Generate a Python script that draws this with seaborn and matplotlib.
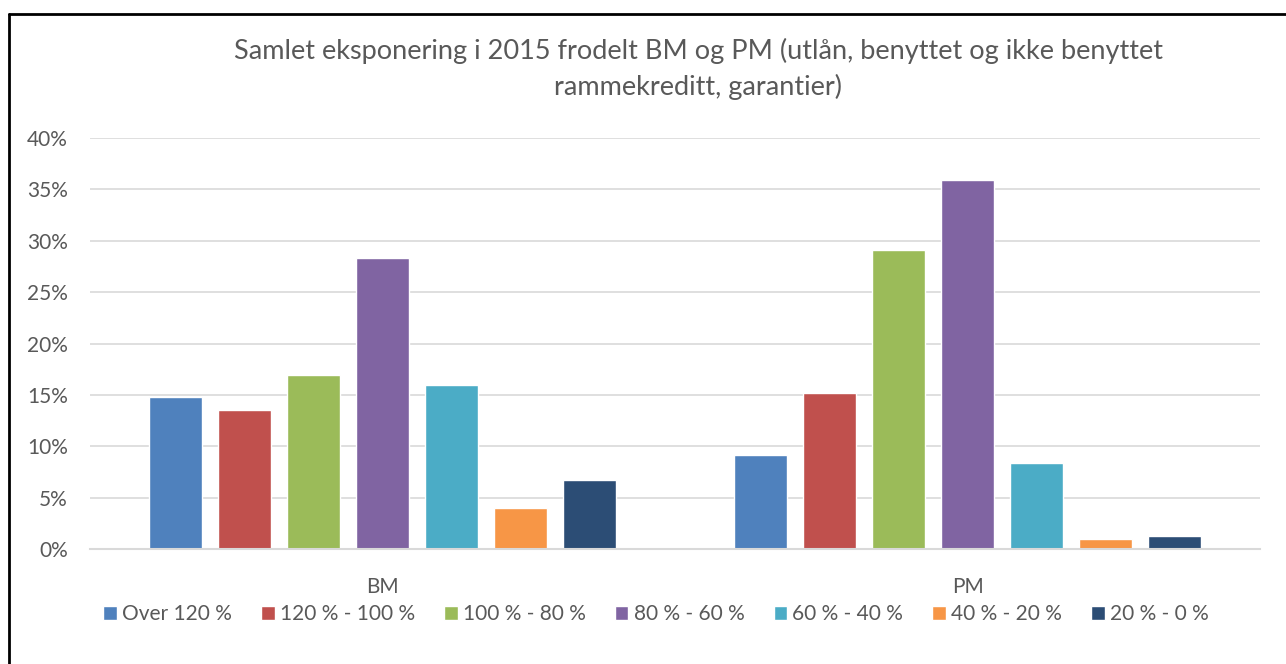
import matplotlib
matplotlib.use("Agg")
import matplotlib.pyplot as plt
import seaborn as sns
import pandas as pd
from matplotlib.lines import Line2D
from matplotlib.ticker import FuncFormatter

groups = ["BM", "PM"]
series = ["Over 120 %", "120 % - 100 %", "100 % - 80 %", "80 % - 60 %",
          "60 % - 40 %", "40 % - 20 %", "20 % - 0 %"]
bm_values = [14.8, 13.5, 16.9, 28.3, 16.0, 4.0, 6.7]
pm_values = [9.1, 15.2, 29.1, 35.9, 8.4, 1.0, 1.3]
colors = ["#4F81BD", "#C0504D", "#9BBB59", "#8064A2", "#4BACC6", "#F79646", "#2C4D75"]
title = "Samlet eksponering i 2015 frodelt BM og PM (utlån, benyttet og ikke benyttet\nrammekreditt, garantier)"

rows = []
for s, b, p in zip(series, bm_values, pm_values):
    rows.append({"group": "BM", "series": s, "value": b / 100})
    rows.append({"group": "PM", "series": s, "value": p / 100})
df = pd.DataFrame(rows)

sns.set_theme(style="white")
plt.rcParams['font.family'] = ['Lato', 'DejaVu Sans']
txt = "#595959"

fig = plt.figure(figsize=(12.86, 6.64), dpi=100)
ax = fig.add_axes([90/1286, 1-549/664, (1260-90)/1286, (549-138)/664])

sns.barplot(data=df, x="group", y="value", hue="series", order=groups,
            hue_order=series, palette=colors, width=0.826, gap=0.23,
            saturation=1, ax=ax, legend=True)

ax.set_ylim(0, 0.40)
ax.set_xlim(-0.5, 1.5)
ax.set_yticks([i * 0.05 for i in range(9)])
ax.yaxis.set_major_formatter(FuncFormatter(lambda v, _: f"{round(v*100)}%"))
ax.grid(axis="y", color="#D9D9D9", linewidth=1.2)
ax.set_axisbelow(True)
for sp in ["top", "right", "left"]:
    ax.spines[sp].set_visible(False)
ax.spines["bottom"].set_color("#D9D9D9")
ax.spines["bottom"].set_linewidth(1.5)
ax.tick_params(axis="both", length=0, labelsize=15, colors=txt)
ax.tick_params(axis="y", pad=16)
ax.tick_params(axis="x", pad=20)
ax.set_xlabel("")
ax.set_ylabel("")

handles, labels = ax.get_legend_handles_labels()
ax.get_legend().remove()
fig.legend(handles, labels, loc="center", bbox_to_anchor=(656/1286, 1-614/664),
           ncol=7, frameon=False, fontsize=15, labelcolor=txt,
           handlelength=0.65, handleheight=0.65, handletextpad=0.25, columnspacing=1.4)

fig.text(698/1286, 1-69/664, title, ha="center", va="center", fontsize=19.5,
         color=txt, linespacing=1.45)

fig.add_artist(Line2D([9/1286, 9/1286], [0, 1-14/664], color="black", lw=2, transform=fig.transFigure))
fig.add_artist(Line2D([9/1286, 1], [1-14/664, 1-14/664], color="black", lw=2, transform=fig.transFigure))

fig.savefig("out.png", dpi=100)
